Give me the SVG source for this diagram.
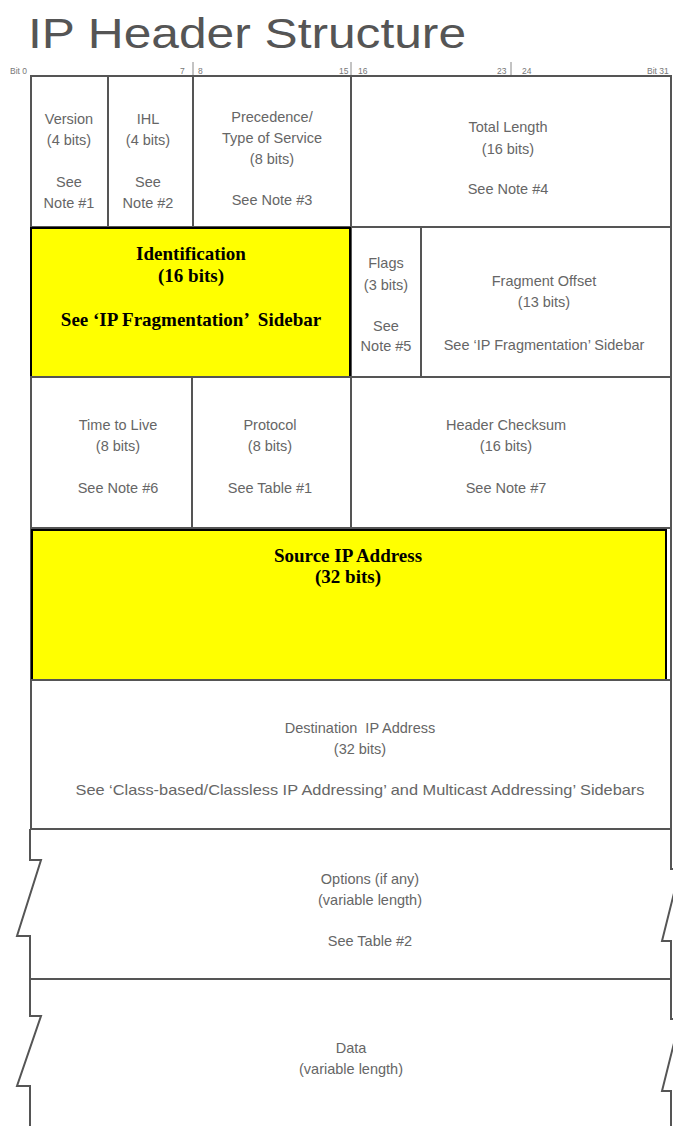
<svg xmlns="http://www.w3.org/2000/svg" width="673" height="1126" viewBox="0 0 673 1126">
<style>
.cell{fill:#fff;stroke:#555;stroke-width:2}
.hl{fill:#ffff00;stroke:#000;stroke-width:2}
.t{font-family:"Liberation Sans","DejaVu Sans",sans-serif;font-size:14.5px;fill:#666;text-anchor:middle}
.b{font-family:"Liberation Serif","Times New Roman",serif;font-size:19px;font-weight:bold;fill:#000;text-anchor:middle}
.r{font-family:"Liberation Sans","DejaVu Sans",sans-serif;font-size:8.5px;fill:#777}
.line{fill:none;stroke:#555;stroke-width:2}
.tick{stroke:#888;stroke-width:1}
</style>
<rect width="673" height="1126" fill="#fff"/>
<text x="28" y="48" font-family="Liberation Sans, DejaVu Sans, sans-serif" font-size="43" fill="#555" textLength="438" lengthAdjust="spacingAndGlyphs">IP Header Structure</text>

<g id="ruler">
<text class="r" x="10" y="74">Bit 0</text>
<text class="r" x="180" y="74">7</text>
<text class="r" x="198" y="74">8</text>
<text class="r" x="339" y="74">15</text>
<text class="r" x="358" y="74">16</text>
<text class="r" x="497" y="74">23</text>
<text class="r" x="522" y="74">24</text>
<text class="r" x="647" y="74">Bit 31</text>
<line class="tick" x1="193" y1="62" x2="193" y2="76"/>
<line class="tick" x1="351" y1="62" x2="351" y2="76"/>
<line class="tick" x1="511" y1="62" x2="511" y2="76"/>
</g>

<g id="version"><rect class="cell" x="31" y="76" width="77" height="151"/>
<text class="t" x="69" y="124">Version</text><text class="t" x="69" y="145">(4 bits)</text><text class="t" x="69" y="187">See</text><text class="t" x="69" y="208">Note #1</text></g>
<g id="ihl"><rect class="cell" x="108" y="76" width="85" height="151"/>
<text class="t" x="148" y="124">IHL</text><text class="t" x="148" y="145">(4 bits)</text><text class="t" x="148" y="187">See</text><text class="t" x="148" y="208">Note #2</text></g>
<g id="tos"><rect class="cell" x="193" y="76" width="158" height="151"/>
<text class="t" x="272" y="122">Precedence/</text><text class="t" x="272" y="143">Type of Service</text><text class="t" x="272" y="164">(8 bits)</text><text class="t" x="272" y="205">See Note #3</text></g>
<g id="total-length"><rect class="cell" x="351" y="76" width="320" height="151"/>
<text class="t" x="508" y="132">Total Length</text><text class="t" x="508" y="154">(16 bits)</text><text class="t" x="508" y="194">See Note #4</text></g>

<g id="flags"><rect class="cell" x="351" y="227" width="70" height="150"/>
<text class="t" x="386" y="268">Flags</text><text class="t" x="386" y="290">(3 bits)</text><text class="t" x="386" y="331">See</text><text class="t" x="386" y="351">Note #5</text></g>
<g id="fragment-offset"><rect class="cell" x="421" y="227" width="250" height="150"/>
<text class="t" x="544" y="286">Fragment Offset</text><text class="t" x="544" y="307">(13 bits)</text><text class="t" x="544" y="350">See ‘IP Fragmentation’ Sidebar</text></g>
<g id="identification"><rect class="hl" x="31" y="228" width="319" height="149"/>
<text class="b" x="191" y="260">Identification</text><text class="b" x="191" y="282">(16 bits)</text><text class="b" x="191" y="326" xml:space="preserve">See ‘IP Fragmentation’  Sidebar</text></g>

<g id="ttl"><rect class="cell" x="31" y="377" width="161" height="151"/>
<text class="t" x="118" y="430">Time to Live</text><text class="t" x="118" y="451">(8 bits)</text><text class="t" x="118" y="493">See Note #6</text></g>
<g id="protocol"><rect class="cell" x="192" y="377" width="159" height="151"/>
<text class="t" x="270" y="430">Protocol</text><text class="t" x="270" y="451">(8 bits)</text><text class="t" x="270" y="493">See Table #1</text></g>
<g id="checksum"><rect class="cell" x="351" y="377" width="320" height="151"/>
<text class="t" x="506" y="430">Header Checksum</text><text class="t" x="506" y="451">(16 bits)</text><text class="t" x="506" y="493">See Note #7</text></g>

<g id="source"><rect class="cell" x="31" y="528" width="640" height="152"/><rect class="hl" x="32" y="530" width="634" height="150"/>
<text class="b" x="348" y="562">Source IP Address</text><text class="b" x="348" y="583">(32 bits)</text></g>

<g id="destination"><rect class="cell" x="31" y="680" width="640" height="149"/>
<text class="t" x="360" y="733" xml:space="preserve">Destination  IP Address</text><text class="t" x="360" y="754">(32 bits)</text>
<text class="t" x="360" y="795" textLength="569" lengthAdjust="spacingAndGlyphs">See ‘Class-based/Classless IP Addressing’ and Multicast Addressing’ Sidebars</text></g>

<g id="options">
<path class="line" d="M30,829 V860 H41 L17,936 H30 V979"/>
<path class="line" d="M671,829 V869 H680 L662,941 H671 V979"/>
<line class="line" x1="30" y1="829" x2="671" y2="829"/>
<text class="t" x="370" y="884">Options (if any)</text><text class="t" x="370" y="905">(variable length)</text><text class="t" x="370" y="946">See Table #2</text></g>

<g id="data">
<line class="line" x1="30" y1="979" x2="671" y2="979"/>
<path class="line" d="M30,979 V1016 H41 L17,1086 H30 V1126"/>
<path class="line" d="M671,979 V1019 H680 L662,1091 H671 V1126"/>
<text class="t" x="351" y="1053">Data</text><text class="t" x="351" y="1074">(variable length)</text></g>

<g id="connectors"></g>
</svg>
